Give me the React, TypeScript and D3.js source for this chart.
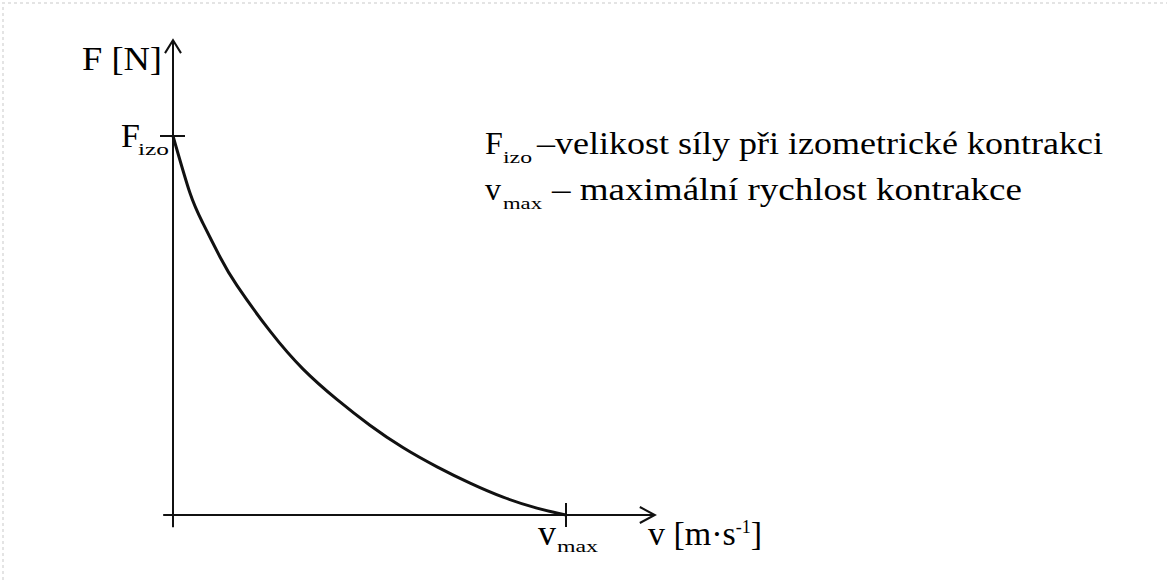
import * as d3 from "d3";
import React from "react";

// normalized speed (v / vmax) and force (F / Fizo)
const speed = [0, 0.043, 0.076, 0.12, 0.163, 0.247, 0.331, 0.417, 0.501, 0.585, 0.672, 0.756, 0.84, 0.926, 1];
const force = [1, 0.85, 0.77, 0.68, 0.605, 0.485, 0.385, 0.305, 0.237, 0.178, 0.127, 0.084, 0.047, 0.018, 0];

const yTickLabel = { main: "F", sub: "izo" };
const xTickLabel = { main: "v", sub: "max" };
const yTitle = "F [N]";
const legend = [
  { main: "F", sub: "izo", text: "–velikost síly při izometrické kontrakci" },
  { main: "v", sub: "max", text: "– maximální rychlost kontrakce" },
];

const width = 1167,
  height = 580;

export default function App() {
  const x = d3.scaleLinear().domain([0, 1]).range([173, 566]);
  const y = d3.scaleLinear().domain([0, 1]).range([515, 136]);

  const points = speed.map((v, i) => ({ v, f: force[i] }));
  const line = d3
    .line<{ v: number; f: number }>()
    .x((d) => x(d.v))
    .y((d) => y(d.f))
    .curve(d3.curveNatural);

  const x0 = x(-0.025),
    x1 = x(1.226),
    yb = y(-0.032),
    yt = y(1.253);
  const ax = x(0),
    ay = y(0);

  return (
    <svg
      width={width}
      height={height}
      style={{
        position: "absolute",
        left: 0,
        top: 0,
        background: "#fff",
        fontFamily: "'Liberation Serif', 'Times New Roman', serif",
      }}
      fill="#000"
    >
      {/* faint frame */}
      <path
        d={`M3,${height} V3 H${width}`}
        fill="none"
        stroke="#e4e4e4"
        strokeWidth={2}
        strokeDasharray="3 3"
      />

      {/* axes */}
      <g stroke="#111" strokeWidth={2} fill="none">
        <line x1={ax} x2={ax} y1={yb} y2={yt} />
        <path d={`M${ax - 8},${yt + 13} L${ax},${yt} L${ax + 8},${yt + 13}`} />
        <line x1={x0} x2={x1} y1={ay} y2={ay} />
        <path d={`M${x1 - 15},${ay - 8} L${x1},${ay} L${x1 - 15},${ay + 8}`} />
        {/* ticks */}
        <line x1={ax - 13} x2={ax + 12} y1={y(1)} y2={y(1)} />
        <line x1={x(1)} x2={x(1)} y1={ay - 12} y2={ay + 12} />
      </g>

      {/* curve */}
      <path d={line(points) ?? ""} fill="none" stroke="#111" strokeWidth={3} />

      {/* axis titles */}
      <text x={82} y={70} fontSize={34} textLength={80} lengthAdjust="spacingAndGlyphs">
        {yTitle}
      </text>
      <text x={648} y={545} fontSize={34}>
        v [m
        <tspan>·</tspan>s
        <tspan dy={-12} fontSize={18}>-1</tspan>
        <tspan dy={12}>]</tspan>
      </text>

      {/* tick labels */}
      <text x={121} y={147} fontSize={34}>
        {yTickLabel.main}
      </text>
      <text x={138} y={155} fontSize={16} textLength={31} lengthAdjust="spacingAndGlyphs">
        {yTickLabel.sub}
      </text>
      <text x={538} y={545} fontSize={36}>
        {xTickLabel.main}
      </text>
      <text x={557} y={552} fontSize={16} textLength={41} lengthAdjust="spacingAndGlyphs">
        {xTickLabel.sub}
      </text>

      {/* legend */}
      {legend.map((d, i) => {
        const base = 154 + i * 46;
        return (
          <g key={i}>
            <text x={485} y={base} fontSize={32}>
              {d.main}
            </text>
            <text
              x={503}
              y={base + 9}
              fontSize={16}
              textLength={i === 0 ? 29 : 39}
              lengthAdjust="spacingAndGlyphs"
            >
              {d.sub}
            </text>
            <text
              x={i === 0 ? 537 : 552}
              y={base}
              fontSize={32}
              textLength={i === 0 ? 566 : 470}
              lengthAdjust="spacingAndGlyphs"
            >
              {d.text}
            </text>
          </g>
        );
      })}
    </svg>
  );
}
